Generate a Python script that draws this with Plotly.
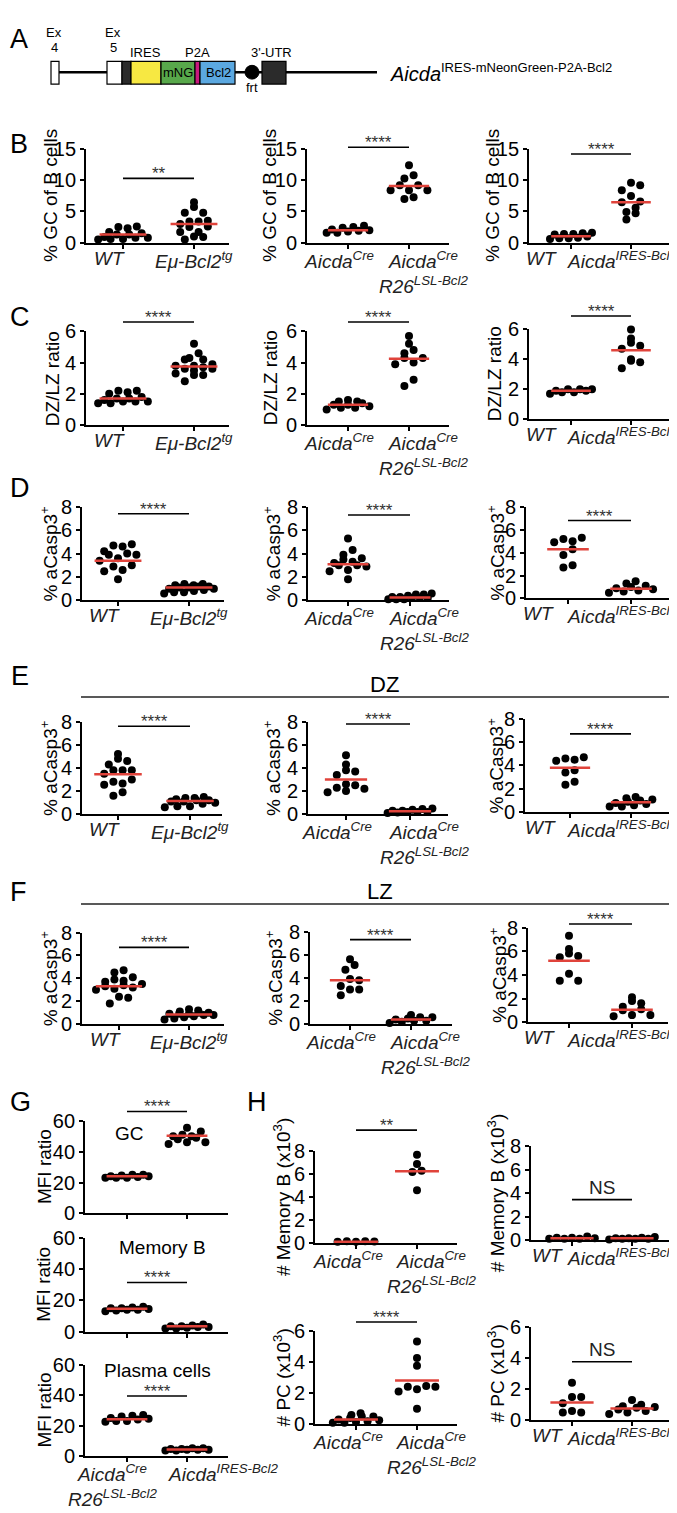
import plotly.graph_objects as go

FONT = "Liberation Sans, Arial, Helvetica, sans-serif"
W, H = 677, 1513
RED = "#e0433b"

# ---------------- category labels ----------------
LBL_WT = "<i>WT</i>"
LBL_EMU = "<i>Eμ-Bcl2<sup>tg</sup></i>"
LBL_CRE = "<i>Aicda<sup>Cre</sup></i>"
LBL_R26 = "<i>Aicda<sup>Cre</sup></i><br><i>R26<sup>LSL-Bcl2</sup></i>"
LBL_IRES = "<i>Aicda<sup>IRES-Bcl2</sup></i>"

YT_GC = "% GC of B cells"
YT_DZLZ = "DZ/LZ ratio"
YT_CASP = "% aCasp3<sup>+</sup>"
YT_MFI = "MFI ratio"
YT_MEM = "# Memory B (x10<sup>3</sup>)"
YT_PC = "# PC (x10<sup>3</sup>)"

# ---------------- data ----------------
# B: % GC of B cells
B1_WT = [2.6, 2.5, 2.3, 1.7, 1.5, 1.3, 1.3, 0.9, 0.8, 0.8, 0.6, 0.6, 0.5]
B1_EMU = [6.5, 5.7, 4.8, 4.8, 3.5, 3.4, 3.4, 3.0, 2.6, 2.5, 1.7, 1.7, 1.0, 0.9, 0.5]
B2_CRE = [2.7, 2.5, 2.4, 2.1, 2.0, 1.9, 1.8, 1.6, 1.6]
B2_R26 = [12.4, 10.8, 10.3, 9.2, 9.2, 8.4, 8.4, 8.4, 7.3, 7.0]
B3_WT = [1.6, 1.5, 1.4, 1.4, 1.3, 1.0, 0.8, 0.7, 0.7, 0.6]
B3_IRES = [9.6, 9.2, 8.4, 7.5, 6.6, 6.5, 5.6, 4.9, 4.7, 3.7]
B_MID = [1.3, 3.0, 2.0, 9.1, 1.05, 6.5]
B_SIG = [10.3, 15.3, 14.2]

# C: DZ/LZ ratio
C1_WT = [2.2, 2.2, 2.1, 2.0, 1.8, 1.7, 1.7, 1.6, 1.5, 1.5, 1.5, 1.4, 1.4]
C1_EMU = [5.2, 4.6, 4.3, 4.2, 4.2, 3.9, 3.8, 3.8, 3.7, 3.6, 3.6, 3.5, 3.3, 3.2, 3.2, 2.8]
C2_CRE = [1.6, 1.5, 1.5, 1.4, 1.3, 1.3, 1.2, 1.1, 1.1, 1.0]
C2_R26 = [5.7, 5.2, 4.8, 4.6, 4.3, 4.3, 4.0, 3.9, 2.9, 2.5]
C3_WT = [2.0, 2.0, 2.0, 1.9, 1.9, 1.8, 1.8, 1.7]
C3_IRES = [6.0, 5.4, 5.1, 4.9, 4.7, 4.0, 3.9, 3.8, 3.4]
C_MID = [1.7, 3.75, 1.3, 4.25, 1.9, 4.6]
C_SIG = [6.6, 6.6, 6.9]

# D: % aCasp3+ (total GC)
D1_WT = [4.8, 4.7, 4.6, 4.2, 4.0, 3.9, 3.9, 3.6, 3.4, 3.0, 2.9, 2.6, 2.5, 1.8]
D1_EMU = [1.4, 1.4, 1.3, 1.3, 1.2, 1.2, 1.1, 1.1, 1.0, 1.0, 0.9, 0.8, 0.7, 0.7, 0.6]
D2_CRE = [5.3, 4.3, 3.9, 3.6, 3.5, 3.3, 3.2, 3.0, 3.0, 2.9, 2.6, 2.5, 1.8]
D2_R26 = [0.6, 0.5, 0.5, 0.4, 0.3, 0.3, 0.2, 0.2, 0.2, 0.1, 0.1, 0.1]
D3_WT = [5.3, 5.2, 5.0, 4.9, 4.3, 3.8, 2.9, 2.7]
D3_IRES = [1.5, 1.3, 1.1, 1.0, 0.9, 0.8, 0.7, 0.6, 0.5]
D_MID = [3.4, 1.1, 3.1, 0.25, 4.3, 0.85]
D_SIG = [7.4, 7.3, 6.8]

# E: % aCasp3+ (DZ)
E1_WT = [5.2, 4.8, 4.6, 4.3, 3.8, 3.8, 3.8, 3.5, 3.0, 2.8, 2.65, 2.55, 1.9, 1.6]
E1_EMU = [1.5, 1.4, 1.4, 1.3, 1.2, 1.2, 1.1, 1.1, 1.0, 0.9, 0.7, 0.7, 0.6]
E2_CRE = [5.1, 4.3, 3.8, 3.7, 3.4, 2.6, 2.5, 2.3, 2.2, 2.0, 1.9]
E2_R26 = [0.5, 0.45, 0.4, 0.3, 0.3, 0.2, 0.2, 0.2, 0.15, 0.1]
E3_WT = [4.7, 4.6, 4.5, 4.4, 3.6, 3.4, 2.6, 2.35]
E3_IRES = [1.3, 1.2, 1.1, 1.0, 0.9, 0.8, 0.7, 0.6, 0.5, 0.5]
E_MID = [3.45, 1.15, 3.0, 0.25, 3.8, 0.85]
E_SIG = [7.6, 7.8, 6.7]

# F: % aCasp3+ (LZ)
F1_WT = [4.7, 4.5, 4.1, 3.9, 3.8, 3.7, 3.5, 3.4, 3.3, 3.2, 3.1, 3.0, 2.4, 2.3, 1.8]
F1_EMU = [1.3, 1.2, 1.1, 1.0, 1.0, 0.9, 0.9, 0.9, 0.8, 0.8, 0.7, 0.6, 0.5, 0.4]
F2_CRE = [5.6, 5.1, 4.7, 3.9, 3.8, 3.3, 3.0, 3.0, 2.5]
F2_R26 = [0.8, 0.6, 0.6, 0.5, 0.4, 0.3, 0.3, 0.2, 0.1]
F3_WT = [7.3, 6.2, 5.8, 5.6, 5.5, 4.1, 3.5, 3.5]
F3_IRES = [2.1, 1.8, 1.6, 1.3, 1.1, 1.0, 0.6, 0.6, 0.5]
F_MID = [3.3, 0.85, 3.8, 0.4, 5.2, 1.05]
F_SIG = [6.7, 7.3, 8.3]

# G: MFI ratio
G_GC_R26 = [25, 25, 24.5, 24, 24, 23.5, 23, 23, 23]
G_GC_IRES = [55.5, 53, 51, 50, 50, 49, 48, 46, 46, 45]
G_MEM_R26 = [16, 15.5, 15, 15, 14.5, 14, 14, 13.5, 13]
G_MEM_IRES = [4.5, 4, 3.5, 3.5, 3, 3, 2.5, 2, 2]
G_PC_R26 = [27, 26.5, 26, 25, 24.5, 24, 23, 23, 22.5]
G_PC_IRES = [5, 5, 4.5, 4.5, 4, 4, 4, 3.5, 3.5]
G_MID = [24, 50.2, 14.6, 3.5, 24.2, 4.1]
G_SIG = [66, 31.5, 39.6]
G_TITLES = ["GC", "Memory B", "Plasma cells"]

# H: absolute numbers (x10^3)
H_MEM_CRE = [0.15, 0.15, 0.12, 0.1, 0.1]
H_MEM_R26 = [7.7, 6.9, 6.3, 6.2, 4.6]
H_MEM_WT = [0.3, 0.2, 0.2, 0.15, 0.1, 0.1, 0.1]
H_MEM_IRES = [0.25, 0.2, 0.15, 0.15, 0.1, 0.1, 0.1, 0.05]
H_PC_CRE = [0.7, 0.6, 0.5, 0.5, 0.4, 0.3, 0.25, 0.2, 0.15, 0.1, 0.1]
H_PC_R26 = [5.3, 4.25, 3.75, 2.45, 2.4, 2.4, 2.25, 2.1, 1.0]
H_PC_WT = [2.4, 1.5, 1.5, 1.1, 0.6, 0.5, 0.5]
H_PC_IRES = [1.3, 1.0, 0.9, 0.85, 0.8, 0.7, 0.6, 0.5, 0.4]
H_MID = [0.1, 6.25, 0.15, 0.15, 0.3, 2.8, 1.15, 0.75]
H_SIG = [9.85, 3.45, 6.55, 3.75]
H_SIG_TXT = ["**", "NS", "****", "NS"]

# ---------------- panel layout (pixel boxes: left, right, cat0, cat1, top, bottom) ----------------
P = []
def add(box, ymax, dt, groups, mids, sig, st, labs, lpos, yt, ytx, hw=0.33, title=None):
    P.append(dict(box=box, ymax=ymax, dt=dt, groups=groups, mids=mids, sig=sig, st=st,
                  labs=labs, lpos=lpos, yt=yt, ytx=ytx, hw=hw, title=title))

# label placement: (pixel shift from the tick, anchor) or (absolute pixel, left/right anchor)
S1 = ((-14, "center"), (0, "center"))
S2 = ((-9, "center"), (14, "center"))
S3 = ((-30, "center"), (671, "right"))
add((78, 221, 115, 186, 132, 227), 15, 5, (B1_WT, B1_EMU), B_MID[0:2], B_SIG[0], "**", (LBL_WT, LBL_EMU), S1, YT_GC, 43)
add((299, 441, 340, 401, 132, 227), 15, 5, (B2_CRE, B2_R26), B_MID[2:4], B_SIG[1], "****", (LBL_CRE, LBL_R26), S2, YT_GC, 262)
add((521, 663, 563, 623, 132, 227), 15, 5, (B3_WT, B3_IRES), B_MID[4:6], B_SIG[2], "****", (LBL_WT, LBL_IRES), S3, YT_GC, 485)

add((78, 221, 115, 186, 317, 412), 6, 2, (C1_WT, C1_EMU), C_MID[0:2], C_SIG[0], "****", (LBL_WT, LBL_EMU), S1, YT_DZLZ, 44)
add((299, 441, 340, 401, 317, 412), 6, 2, (C2_CRE, C2_R26), C_MID[2:4], C_SIG[1], "****", (LBL_CRE, LBL_R26), S2, YT_DZLZ, 262)
add((521, 663, 563, 623, 315, 406), 6, 2, (C3_WT, C3_IRES), C_MID[4:6], C_SIG[2], "****", (LBL_WT, LBL_IRES), S3, YT_DZLZ, 486)

add((74, 216, 110, 181, 495, 590), 8, 2, (D1_WT, D1_EMU), D_MID[0:2], D_SIG[0], "****", (LBL_WT, LBL_EMU), S1, YT_CASP, 41)
add((300, 441, 340, 402, 495, 590), 8, 2, (D2_CRE, D2_R26), D_MID[2:4], D_SIG[1], "****", (LBL_CRE, LBL_R26), S2, YT_CASP, 264)
add((518, 662, 560, 623, 495, 588), 8, 2, (D3_WT, D3_IRES), D_MID[4:6], D_SIG[2], "****", (LBL_WT, LBL_IRES), S3, YT_CASP, 488)

add((74, 214, 110, 182, 713, 807), 8, 2, (E1_WT, E1_EMU), E_MID[0:2], E_SIG[0], "****", (LBL_WT, LBL_EMU), S1, YT_CASP, 41)
add((300, 440, 338, 402, 713, 807), 8, 2, (E2_CRE, E2_R26), E_MID[2:4], E_SIG[1], "****", (LBL_CRE, LBL_R26), S2, YT_CASP, 264)
add((517, 663, 562, 623, 710, 805), 8, 2, (E3_WT, E3_IRES), E_MID[4:6], E_SIG[2], "****", (LBL_WT, LBL_IRES), S3, YT_CASP, 488)

add((74, 216, 111, 181, 927, 1020), 8, 2, (F1_WT, F1_EMU), F_MID[0:2], F_SIG[0], "****", (LBL_WT, LBL_EMU), S1, YT_CASP, 41)
add((302, 444, 342, 403, 926, 1020), 8, 2, (F2_CRE, F2_R26), F_MID[2:4], F_SIG[1], "****", (LBL_CRE, LBL_R26), S2, YT_CASP, 266)
add((520, 660, 561, 624, 922, 1018), 8, 2, (F3_WT, F3_IRES), F_MID[4:6], F_SIG[2], "****", (LBL_WT, LBL_IRES), S3, YT_CASP, 490)

SG = ((-15, "center"), (158, "left"))
add((77, 220, 119, 179, 1118, 1212), 60, 20, (G_GC_R26, G_GC_IRES), G_MID[0:2], G_SIG[0], "****", None, None, YT_MFI, 36, 0.34, (G_TITLES[0], 121, 1131))
add((77, 220, 119, 179, 1237, 1332), 60, 20, (G_MEM_R26, G_MEM_IRES), G_MID[2:4], G_SIG[1], "****", None, None, YT_MFI, 36, 0.34, (G_TITLES[1], 154, 1247))
add((77, 220, 119, 179, 1366, 1458), 60, 20, (G_PC_R26, G_PC_IRES), G_MID[4:6], G_SIG[2], "****", (LBL_R26, LBL_IRES), SG, YT_MFI, 36, 0.34, (G_TITLES[2], 149, 1371))

SH1 = ((-8, "center"), (14, "center"))
SH2 = ((-25, "center"), (671, "right"))
add((307, 449, 348, 409, 1149, 1242), 8, 2, (H_MEM_CRE, H_MEM_R26), H_MID[0:2], H_SIG[0], H_SIG_TXT[0], (LBL_CRE, LBL_R26), SH1, YT_MEM, 274, 0.36)
add((523, 663, 564, 624, 1144, 1239), 8, 2, (H_MEM_WT, H_MEM_IRES), H_MID[2:4], H_SIG[1], H_SIG_TXT[1], (LBL_WT, LBL_IRES), SH2, YT_MEM, 488, 0.36)
add((307, 449, 348, 409, 1331, 1426), 6, 2, (H_PC_CRE, H_PC_R26), H_MID[4:6], H_SIG[2], H_SIG_TXT[2], (LBL_CRE, LBL_R26), SH1, YT_PC, 274, 0.36)
add((523, 663, 564, 624, 1327, 1422), 6, 2, (H_PC_WT, H_PC_IRES), H_MID[6:8], H_SIG[3], H_SIG_TXT[3], (LBL_WT, LBL_IRES), SH2, YT_PC, 488, 0.36)


def rows_layout(vals, px_per_y, px_per_x, half_w, d=8.0):
    """Prism-like scatter-dot arrangement: values are binned into rows; each row is spread
    symmetrically (spacing <= ~marker diameter, width capped at +-half_w), with the
    points of a row interleaved so the row does not slope."""
    order = sorted(range(len(vals)), key=lambda i: vals[i])
    bins, cur, start = [], [], None
    for i in order:
        y = vals[i] * px_per_y
        if cur and y - start >= d * 0.95:
            bins.append(cur)
            cur = []
        if not cur:
            start = y
        cur.append(i)
    if cur:
        bins.append(cur)
    xs = [0.0] * len(vals)
    maxw = half_w * px_per_x
    for b in bins:
        n = len(b)
        if n == 1:
            continue
        s = min(d * 1.15, 2 * maxw / (n - 1))
        slots = list(range(0, n, 2)) + list(range(1, n, 2))
        for j, i in enumerate(b):
            xs[i] = (slots[j] - (n - 1) / 2) * s / px_per_x
    return xs


fig = go.Figure()
shapes, annotations, axes = [], [], {}


def X(px):
    return px / W


def Y(py):
    return 1 - py / H


def pa(text, x, y, size, color="black", **kw):
    d = dict(xref="paper", yref="paper", x=X(x), y=Y(y), text=text, showarrow=False,
             xanchor="center", yanchor="middle", font=dict(family=FONT, size=size, color=color))
    d.update(kw)
    annotations.append(d)


for k, p in enumerate(P, start=1):
    L, R, c0, c1, T, B = p["box"]
    unit = c1 - c0
    ymax = p["ymax"]
    pxy = (B - T) / ymax
    sfx = "" if k == 1 else str(k)
    xa, ya = "x" + sfx, "y" + sfx
    axes["xaxis" + sfx] = dict(
        domain=[L / W, R / W], range=[(L - c0) / unit, (R - c0) / unit], anchor=ya,
        showline=True, linecolor="black", linewidth=1.8, ticks="outside", ticklen=4,
        tickwidth=1.6, tickcolor="black", tickvals=[0, 1], showticklabels=False,
        showgrid=False, zeroline=False)
    axes["yaxis" + sfx] = dict(
        domain=[1 - B / H, 1 - T / H], range=[0, ymax], anchor=xa,
        showline=True, linecolor="black", linewidth=1.8, ticks="outside", ticklen=4,
        tickwidth=1.6, tickcolor="black", tickvals=list(range(0, ymax + 1, p["dt"])),
        tickfont=dict(family=FONT, size=20, color="black"),
        showgrid=False, zeroline=False)
    for gi, vals in enumerate(p["groups"]):
        offs = rows_layout(vals, pxy, unit, p["hw"] + 0.02)
        fig.add_trace(go.Scatter(
            x=[gi + o for o in offs], y=vals, mode="markers",
            marker=dict(color="black", size=8, line=dict(width=0)),
            cliponaxis=False, xaxis=xa, yaxis=ya, showlegend=False, hoverinfo="skip"))
        m = p["mids"][gi]
        shapes.append(dict(type="line", xref=xa, yref=ya, x0=gi - p["hw"], x1=gi + p["hw"],
                           y0=m, y1=m, line=dict(color=RED, width=2.5), layer="above"))
    # significance bar
    sy = p["sig"] / ymax
    shapes.append(dict(type="line", xref=xa, yref=ya + " domain", x0=0, x1=1, y0=sy, y1=sy,
                       line=dict(color="black", width=1.6)))
    if p["st"] == "NS":
        annotations.append(dict(xref=xa, yref=ya + " domain", x=0.5, y=sy, text="NS",
                                showarrow=False, yanchor="bottom", yshift=0,
                                font=dict(family=FONT, size=19, color="#222")))
    else:
        annotations.append(dict(xref=xa, yref=ya + " domain", x=0.5, y=sy, text=p["st"],
                                showarrow=False, yanchor="bottom", yshift=-7,
                                font=dict(family=FONT, size=17, color="#333")))
    # category labels (placed under the category ticks)
    if p["labs"]:
        for gi, (lab, (pos, anc)) in enumerate(zip(p["labs"], p["lpos"])):
            lx = c0 + gi * unit + pos if anc == "center" else pos
            pa(lab, lx, B + 3, 19, color="#222", xanchor=anc, yanchor="top", align="center")
    # y title
    pa(p["yt"], p["ytx"], (T + B) / 2, 19, textangle=-90)
    if p["title"]:
        t, tx, ty = p["title"]
        pa(t, tx, ty, 19)

# panel letters
for letter, (lx, ly) in {"A": (11, 20), "B": (11, 127), "C": (12, 302), "D": (12, 476),
                         "E": (12, 667), "F": (11, 886), "G": (12, 1099), "H": (249, 1099)}.items():
    pa(letter, lx, ly, 27)

# DZ / LZ headers
pa("DZ", 376, 675, 22)
pa("LZ", 372, 885, 22)
for ly in (688, 898):
    shapes.append(dict(type="line", xref="paper", yref="paper", x0=X(73), x1=X(668),
                       y0=Y(ly), y1=Y(ly), line=dict(color="#222", width=1.5)))

# ---------------- panel A: allele diagram ----------------
def rect(x0, x1, y0, y1, fill, lw=1.2):
    shapes.append(dict(type="rect", xref="paper", yref="paper", x0=X(x0), x1=X(x1),
                       y0=Y(y1), y1=Y(y0), fillcolor=fill, line=dict(color="black", width=lw)))

LINE_Y = 54
BT, BB = 43, 66
shapes.append(dict(type="line", xref="paper", yref="paper", x0=X(50), x1=X(369),
                   y0=Y(LINE_Y), y1=Y(LINE_Y), line=dict(color="black", width=2.5)))
rect(43, 51, BT, BB, "white")
rect(99, 114, BT, BB, "white")
rect(114, 123, BT, BB, "#2b2b2b")
rect(123, 153, BT, BB, "#f7e842")
rect(153, 187, BT, BB, "#58a84b")
rect(187, 192, BT, BB, "#c8197d")
rect(192, 227, BT, BB, "#5ba8e0")
rect(254, 278, BT, BB, "#2b2b2b")
shapes.append(dict(type="circle", xref="paper", yref="paper", x0=X(237), x1=X(251),
                   y0=Y(LINE_Y + 7), y1=Y(LINE_Y - 7), fillcolor="black", line=dict(color="black", width=1)))
pa("Ex", 46, 14, 13)
pa("4", 46, 29, 13)
pa("Ex", 105, 14, 13)
pa("5", 105, 29, 13)
pa("IRES", 137, 34, 13)
pa("P2A", 190, 34, 13)
pa("3'-UTR", 263, 34, 13)
pa("mNG", 170, 54, 13)
pa("Bcl2", 210, 54, 13)
pa("frt", 244, 70, 13)
pa("<i>Aicda</i>", 380, 56, 20, xanchor="left")
pa("IRES-mNeonGreen-P2A-Bcl2", 431, 49, 13, xanchor="left")

fig.update_layout(
    width=W, height=H, margin=dict(l=0, r=0, t=0, b=0),
    paper_bgcolor="white", plot_bgcolor="white",
    font=dict(family=FONT, color="black"),
    shapes=shapes, annotations=annotations, showlegend=False,
    **axes)

fig.write_html("out.html")
